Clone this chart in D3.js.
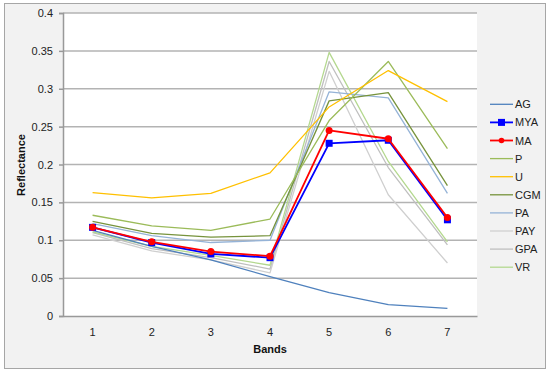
<!DOCTYPE html>
<html><head><meta charset="utf-8">
<script src="https://cdn.jsdelivr.net/npm/d3@7"></script>
<style>body{margin:0;background:#fff}svg{display:block;font-family:"Liberation Sans",Arial,sans-serif}</style>
</head><body><svg id="c" width="550" height="373"></svg>
<script>
const bands = [1,2,3,4,5,6,7];
const yTicks = [0,0.05,0.1,0.15,0.2,0.25,0.3,0.35,0.4];
const seriesNames = ["AG","MYA","MA","P","U","CGM","PA","PAY","GPA","VR"];
const AG  = [0.113,0.092,0.074,0.052,0.031,0.015,0.010];
const MYA = [0.117,0.097,0.082,0.077,0.228,0.232,0.127];
const MA  = [0.117,0.098,0.085,0.079,0.245,0.234,0.130];
const P   = [0.133,0.119,0.113,0.128,0.258,0.336,0.221];
const U   = [0.163,0.156,0.162,0.189,0.276,0.324,0.283];
const CGM = [0.125,0.109,0.104,0.106,0.284,0.295,0.172];
const PA  = [0.122,0.106,0.097,0.100,0.296,0.288,0.162];
const PAY = [0.107,0.086,0.074,0.057,0.323,0.160,0.070];
const GPA = [0.110,0.089,0.077,0.062,0.336,0.196,0.094];
const VR  = [0.111,0.092,0.080,0.067,0.348,0.204,0.098];
const values = [AG,MYA,MA,P,U,CGM,PA,PAY,GPA,VR];
const colors = ["#4f81bd","#0000ff","#ff0000","#9bbb59","#ffc000","#77933c","#95b3d7","#cfcfcf","#bfbfbf","#b4d88f"];
const widths = [1.3,1.8,1.8,1.3,1.3,1.3,1.3,1.3,1.3,1.3];
const markers = [null,"square","circle",null,null,null,null,null,null,null];

const svg = d3.select("#c");
svg.append("rect").attr("x",4.5).attr("y",3.5).attr("width",541).attr("height",365)
  .attr("fill","#f2f2f2").attr("stroke","#a6a6a6").attr("stroke-width",1);

const L=63,R=477,T=13,B=316;
svg.append("rect").attr("x",L).attr("y",T).attr("width",R-L).attr("height",B-T).attr("fill","#fff");

const x = d3.scaleBand().domain(bands).range([L,R]);
const y = d3.scaleLinear().domain([0,0.4]).range([B,T]);
const cx = d => x(d)+x.bandwidth()/2;

// grid
svg.append("g").selectAll("line").data(yTicks.filter(t=>t>0)).join("line")
  .attr("x1",L).attr("x2",R).attr("y1",d=>y(d)).attr("y2",d=>y(d))
  .attr("stroke","#b3b3b3").attr("stroke-width",1.5);

const ya = svg.append("g").attr("transform",`translate(${L},0)`)
  .call(d3.axisLeft(y).tickValues(yTicks).tickFormat(d=>d===0?"0":String(+d.toFixed(2))).tickSize(4).tickPadding(6));
ya.select(".domain").attr("stroke","#999").attr("stroke-width",1.5);
ya.selectAll(".tick line").attr("stroke","#999").attr("stroke-width",1.5);
ya.selectAll("text").attr("font-size",11).attr("fill","#222").attr("font-family","Liberation Sans, Arial, sans-serif");

const xa = svg.append("g").attr("transform",`translate(0,${B})`)
  .call(d3.axisBottom(x).tickSize(0).tickPadding(12));
xa.select(".domain").attr("stroke","#999").attr("stroke-width",1.5);
xa.selectAll("text").attr("font-size",11).attr("fill","#222").attr("font-family","Liberation Sans, Arial, sans-serif");

svg.append("text").attr("x",270).attr("y",353).attr("text-anchor","middle")
  .attr("font-size",11).attr("font-weight","bold").attr("fill","#111").text("Bands");
svg.append("text").attr("transform","translate(25,165) rotate(-90)").attr("text-anchor","middle")
  .attr("font-size",11).attr("font-weight","bold").attr("fill","#111").text("Reflectance");

const line = d3.line().x((d,i)=>cx(bands[i])).y(d=>y(d));
const order = [7,8,9,6,5,3,4,0,1,2];
order.forEach(k=>{
  svg.append("path").datum(values[k]).attr("d",line).attr("fill","none")
    .attr("stroke",colors[k]).attr("stroke-width",widths[k]).attr("stroke-linejoin","round");
  if(markers[k]==="square"){
    svg.append("g").selectAll("rect").data(values[k]).join("rect")
      .attr("x",(d,i)=>cx(bands[i])-3.5).attr("y",d=>y(d)-3.5).attr("width",7).attr("height",7).attr("fill",colors[k]);
  } else if(markers[k]==="circle"){
    svg.append("g").selectAll("circle").data(values[k]).join("circle")
      .attr("cx",(d,i)=>cx(bands[i])).attr("cy",d=>y(d)).attr("r",3.5).attr("fill",colors[k]);
  }
});

// legend
const lg = svg.append("g");
seriesNames.forEach((n,k)=>{
  const yy = 104.3 + k*18.1;
  lg.append("line").attr("x1",490).attr("x2",513).attr("y1",yy).attr("y2",yy)
    .attr("stroke",colors[k]).attr("stroke-width",widths[k]);
  if(markers[k]==="square") lg.append("rect").attr("x",498).attr("y",yy-3.5).attr("width",7).attr("height",7).attr("fill",colors[k]);
  if(markers[k]==="circle") lg.append("circle").attr("cx",501.5).attr("cy",yy).attr("r",2.8).attr("fill",colors[k]);
  lg.append("text").attr("x",515).attr("y",yy+4).attr("font-size",11).attr("fill","#222").text(n);
});
</script></body></html>
